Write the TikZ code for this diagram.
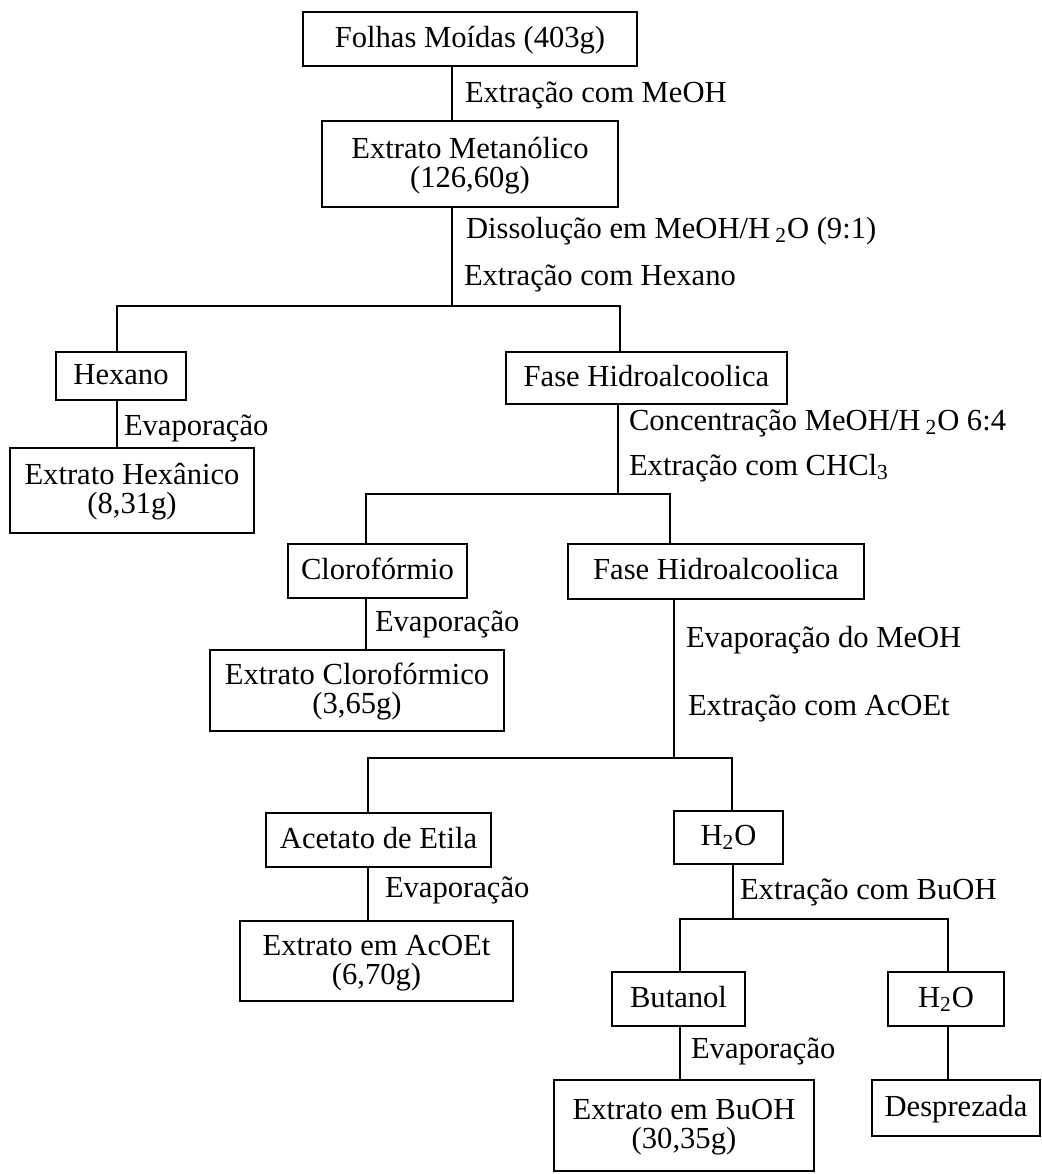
\documentclass[tikz,border=0pt]{standalone}
\usepackage{fontspec}
\setmainfont{Liberation Serif}

\tikzset{
  caixa/.style={draw,inner sep=0pt},
  duas/.style={caixa,align=center,text height=26.5pt,text depth=3.5pt},
  linha/.style={caixa,text height=12pt,text depth=4pt},
  rotulo/.style={anchor=base west,inner sep=0pt}
}

\begin{document}
\begin{tikzpicture}[x=0.5pt,y=-0.5pt,line width=1pt,
  font=\fontsize{15.3}{14.5}\selectfont]
\useasboundingbox (0,0) rectangle (1042,1174);

\node[linha,minimum width=167pt,minimum height=27pt] (fol) at (470,39) {Folhas Moídas (403g)};
\node[duas,minimum width=148pt,minimum height=43pt] (met) at (470,164) {Extrato Metanólico\\(126,60g)};
\node[linha,minimum width=65pt,minimum height=24pt] (hex) at (121,376) {Hexano};
\node[linha,minimum width=140.5pt,minimum height=26pt] (hid1) at (646.5,378) {Fase Hidroalcoolica};
\node[duas,minimum width=122pt,minimum height=42.5pt] (exthex) at (132,490.5) {Extrato Hexânico\\(8,31g)};
\node[linha,minimum width=89.5pt,minimum height=27pt] (clo) at (377.5,571) {Clorofórmio};
\node[linha,minimum width=148pt,minimum height=27.5pt] (hid2) at (716,571.5) {Fase Hidroalcoolica};
\node[duas,minimum width=147pt,minimum height=40.5pt] (extclo) at (357,690.5) {Extrato Clorofórmico\\(3,65g)};
\node[linha,minimum width=112.5pt,minimum height=27pt] (ace) at (378.5,840) {Acetato de Etila};
\node[linha,minimum width=54.5pt,minimum height=26.5pt] (agua1) at (728.5,837.5) {H\textsubscript{2}O};
\node[duas,minimum width=136.5pt,minimum height=40pt] (extace) at (376.5,961) {Extrato em AcOEt\\(6,70g)};
\node[linha,minimum width=66.5pt,minimum height=27pt] (but) at (678.5,999) {Butanol};
\node[linha,minimum width=58pt,minimum height=27pt] (agua2) at (946,999) {H\textsubscript{2}O};
\node[duas,minimum width=130pt,minimum height=45.5pt] (extbut) at (684,1125.5) {Extrato em BuOH\\(30,35g)};
\node[linha,minimum width=84pt,minimum height=28pt] (desp) at (956,1108) {Desprezada};

\coordinate (s1) at (452,306);
\coordinate (e1) at (117,306);
\coordinate (d1) at (620,306);
\coordinate (s2) at (618,494);
\coordinate (e2) at (366,494);
\coordinate (d2) at (670,494);
\coordinate (s3) at (674,758);
\coordinate (e3) at (368,758);
\coordinate (d3) at (732,758);
\coordinate (s4) at (733,919);
\coordinate (e4) at (680,919);
\coordinate (d4) at (948,919);

\draw (fol.south -| s1) -- (met.north -| s1);
\foreach \a/\s in {met/s1,hid1/s2,hid2/s3,agua1/s4}
    \draw (\a.south -| \s) -- (\s);
\foreach \a/\b/\e/\d in {hex/hid1/e1/d1,clo/hid2/e2/d2,ace/agua1/e3/d3,but/agua2/e4/d4}
    \draw (\a.north -| \e) -- (\e) -- (\d) -- (\b.north -| \d);
\foreach \a/\b/\e in {hex/exthex/e1,clo/extclo/e2,ace/extace/e3,but/extbut/e4,agua2/desp/d4}
    \draw (\a.south -| \e) -- (\b.north -| \e);

\node[rotulo] (l1) at (464,102) {Extração com MeOH};
\node[rotulo] (l2) at (465,238) {Dissolução em MeOH/H\,\textsubscript{2}O (9:1)};
\node[rotulo] (l3) at (463,285) {Extração com Hexano};
\node[rotulo] (l4) at (123,435) {Evaporação};
\node[rotulo] (l5) at (628,430) {Concentração MeOH/H\,\textsubscript{2}O 6:4};
\node[rotulo] (l6) at (628,475) {Extração com CHCl\textsubscript{3}};
\node[rotulo] (l7) at (374,631) {Evaporação};
\node[rotulo] (l8) at (685,647) {Evaporação do MeOH};
\node[rotulo] (l9) at (687,715) {Extração com AcOEt};
\node[rotulo] (l10) at (384,897) {Evaporação};
\node[rotulo] (l11) at (739,899) {Extração com BuOH};
\node[rotulo] (l12) at (690,1058) {Evaporação};
\end{tikzpicture}
\end{document}
